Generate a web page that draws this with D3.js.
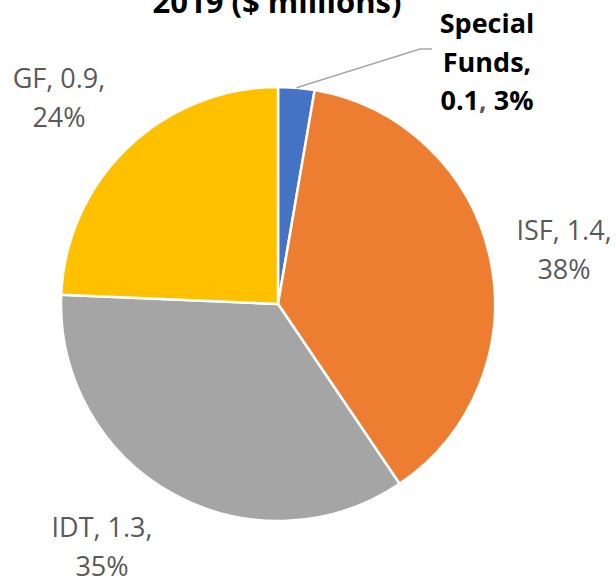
<!DOCTYPE html>
<html>
<head>
<meta charset="utf-8">
<script src="https://cdn.jsdelivr.net/npm/d3@7"></script>
<style>
  body { margin: 0; background: #fff; }
  text { font-family: "Open Sans", "Noto Sans", sans-serif; }
</style>
</head>
<body>
<div id="chart"></div>
<script>
// Data
const categories = ["Special Funds", "ISF", "IDT", "GF"];
const values = [0.1, 1.4, 1.3, 0.9];
const colors = ["#4472C4", "#ED7D31", "#A5A5A5", "#FFC000"];
const titleText = "2019 ($ millions)";

// Layout
const W = 616, H = 579;
const cx = 278, cy = 304, radius = 217;
// label centre x and first baseline y for each slice
const labelPos = [
    { x: 487, y: 33 },
    { x: 564, y: 240 },
    { x: 102, y: 537 },
    { x: 59, y: 88 }
];
const lineGap = 38.5;

const svg = d3.select("#chart")
    .append("svg")
    .attr("width", W)
    .attr("height", H);

svg.append("rect").attr("width", W).attr("height", H).attr("fill", "#fff");

// Title (top line cut off by the frame)
svg.append("text")
    .attr("x", 277)
    .attr("y", 13)
    .attr("text-anchor", "middle")
    .style("font-size", "31px")
    .style("font-weight", "bold")
    .style("fill", "#000")
    .text(titleText);

const data = categories.map((c, i) => ({ name: c, value: values[i], color: colors[i] }));
const total = d3.sum(values);
const pct = d3.format(".0%");

const pie = d3.pie().value(d => d.value).sort(null);
const arcs = pie(data);

const arc = d3.arc().innerRadius(0).outerRadius(radius);

const g = svg.append("g").attr("transform", `translate(${cx},${cy})`);

g.selectAll(".slice")
    .data(arcs)
    .enter()
    .append("path")
    .attr("class", "slice")
    .attr("d", arc)
    .attr("fill", d => d.data.color)
    .attr("stroke", "#fff")
    .attr("stroke-width", 2.5)
    .attr("stroke-linejoin", "round");

// Leader line for the small slice
const sf = arcs[0];
const mid = (sf.startAngle + sf.endAngle) / 2;
const p0 = [cx + radius * Math.sin(mid), cy - radius * Math.cos(mid)];
const elbow = [420, 49];
svg.append("polyline")
    .attr("points", [p0, elbow, [432, 49]].map(p => p.join(",")).join(" "))
    .attr("fill", "none")
    .attr("stroke", "#A6A6A6")
    .attr("stroke-width", 1.5);

// Labels
arcs.forEach((a, i) => {
    const d = a.data;
    const p = labelPos[i];
    const share = pct(d.value / total);
    const t = svg.append("text")
        .attr("text-anchor", "middle")
        .style("font-size", "27px")
        .style("fill", "#595959");
    if (i === 0) {
        t.style("font-weight", "bold").style("fill", "#000");
        t.append("tspan").attr("x", p.x).attr("y", p.y).text("Special");
        t.append("tspan").attr("x", p.x).attr("y", p.y + lineGap).text("Funds,");
        const l3 = t.append("tspan").attr("x", p.x).attr("y", p.y + lineGap * 2);
        l3.append("tspan").text(d3.format(".1f")(d.value));
        l3.append("tspan").style("fill", "#595959").text(",");
        l3.append("tspan").text(" " + share);
    } else {
        t.append("tspan").attr("x", p.x).attr("y", p.y)
            .text(`${d.name}, ${d3.format(".1f")(d.value)},`);
        t.append("tspan").attr("x", p.x).attr("y", p.y + lineGap).text(share);
    }
});
</script>
</body>
</html>
